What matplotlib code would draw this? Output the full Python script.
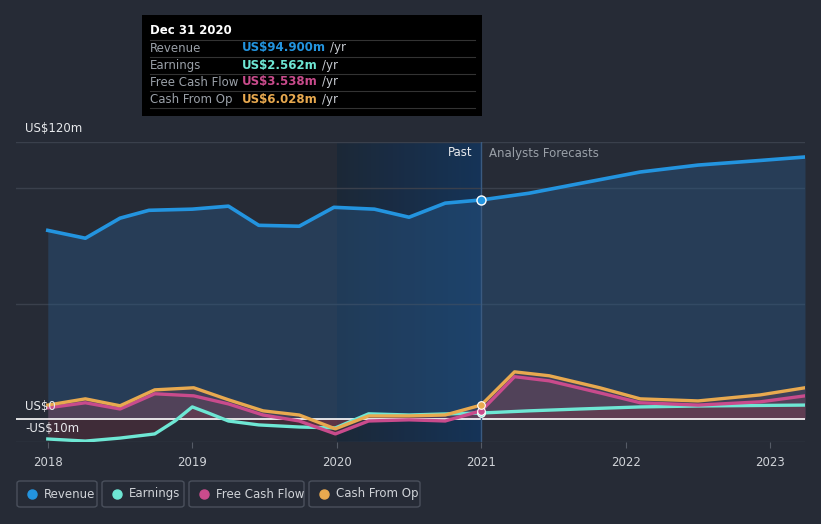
import numpy as np
import matplotlib.pyplot as plt
from matplotlib.patches import FancyBboxPatch, Rectangle
from matplotlib.colors import LinearSegmentedColormap

# Data (US$ m)
rev_x = [2018.0, 2018.26, 2018.5, 2018.7, 2019.0, 2019.25, 2019.46, 2019.74,
         2019.98, 2020.26, 2020.5, 2020.75, 2021.0, 2021.33, 2021.68, 2022.1,
         2022.5, 2022.93, 2023.24]
rev_y = [81.7, 78.3, 87.0, 90.4, 90.9, 92.2, 83.9, 83.5, 91.7, 90.9, 87.4,
         93.5, 94.9, 97.8, 102.0, 107.0, 110.0, 112.0, 113.5]

earn_x = [2018.0, 2018.26, 2018.5, 2018.74, 2018.88, 2019.0, 2019.11, 2019.25,
          2019.46, 2019.74, 2019.99, 2020.22, 2020.5, 2020.78, 2021.0, 2021.33,
          2021.68, 2022.1, 2022.5, 2023.24]
earn_y = [-8.7, -9.6, -8.3, -6.5, -0.9, 5.2, 2.6, -0.9, -2.6, -3.5, -3.9, 2.2,
          1.7, 2.2, 2.562, 3.5, 4.3, 5.2, 5.6, 6.0]

fcf_x = [2018.0, 2018.26, 2018.5, 2018.74, 2019.01, 2019.25, 2019.49, 2019.74,
         2019.99, 2020.22, 2020.5, 2020.75, 2021.0, 2021.23, 2021.47, 2021.82,
         2022.1, 2022.5, 2022.93, 2023.24]
fcf_y = [4.8, 7.0, 4.3, 10.9, 10.0, 6.5, 1.7, -0.9, -6.5, -0.9, -0.4, -0.9,
         3.538, 18.3, 16.5, 11.3, 7.0, 6.0, 7.4, 10.0]

cfo_x = fcf_x
cfo_y = [6.0, 8.7, 5.7, 12.6, 13.5, 8.3, 3.5, 1.7, -4.3, 1.3, 1.3, 1.7,
         6.028, 20.4, 18.7, 13.5, 8.7, 7.8, 10.4, 13.5]

years = [2018, 2019, 2020, 2021, 2022, 2023]
labels = ["Revenue", "Earnings", "Free Cash Flow", "Cash From Op"]
colors = ["#2394df", "#6ee7d4", "#c94b8c", "#e8a94f"]
tip_values = ["US$94.900m", "US$2.562m", "US$3.538m", "US$6.028m"]

bg = "#262b36"
W, H = 821, 524
fig = plt.figure(figsize=(W / 100, H / 100), dpi=100, facecolor=bg)
ax = fig.add_axes([16 / W, (H - 442) / H, (805 - 16) / W, 300 / H])
ax.set_facecolor(bg)

# past highlight (gradient towards the present)
cmap = LinearSegmentedColormap.from_list("past", ["#1c2838", "#15355a"])
ax.imshow(np.linspace(0, 1, 256).reshape(1, -1), cmap=cmap, aspect="auto",
          extent=[2020.0, 2021.0, -10, 120], zorder=0, alpha=0.95,
          interpolation="bilinear")
ax.set_xlim(2017.78, 2023.24)
ax.set_ylim(-10, 120)

for gy in [-10, 50, 100, 120]:
    ax.axhline(gy, color="#3a404c", lw=1, zorder=1)

# areas
ax.fill_between(rev_x, rev_y, 0, color="#2a5a8a", alpha=0.4, lw=0, zorder=2)
for xs, ys, c in [(fcf_x, fcf_y, "#8a4a5e"), (cfo_x, cfo_y, "#8a4a5e"),
                  (earn_x, earn_y, "#8a3040")]:
    ax.fill_between(xs, ys, 0, color=c, alpha=0.25, lw=0, zorder=2)

ax.plot(rev_x, rev_y, color=colors[0], lw=2.6, zorder=5)
ax.plot(earn_x, earn_y, color=colors[1], lw=2.4, zorder=4)
ax.plot(fcf_x, fcf_y, color=colors[2], lw=2.4, zorder=4)
ax.plot(cfo_x, cfo_y, color=colors[3], lw=2.4, zorder=4)

ax.axhline(0, color="white", lw=1.2, zorder=3)
ax.axvline(2021.0, color="#3a5a80", lw=1, zorder=3)

ax.plot([2021.0], [rev_y[rev_x.index(2021.0)]], "o", color=colors[0],
        mec="white", mew=1, ms=6.5, zorder=6)
ax.plot([2021.0], [earn_y[earn_x.index(2021.0)]], "o", color=colors[1],
        mec="white", mew=0.8, ms=5.5, zorder=6)
ax.plot([2021.0], [fcf_y[fcf_x.index(2021.0)]], "o", color=colors[2],
        mec="white", mew=0.8, ms=5.5, zorder=6)
ax.plot([2021.0], [cfo_y[cfo_x.index(2021.0)]], "o", color=colors[3],
        mec="white", mew=0.8, ms=5.5, zorder=6)

for s in ax.spines.values():
    s.set_visible(False)
ax.set_yticks([])
ax.set_xticks(years)
ax.set_xticklabels([str(y) for y in years], color="#d0d3d8", fontsize=8.5)
ax.tick_params(axis="x", length=4, color="#555b66", pad=6)

# y labels
fig.text(25 / W, 1 - 129 / H, "US$120m", color="#e8eaed", fontsize=8.5,
         va="center")
fig.text(25 / W, 1 - 406 / H, "US$0", color="#e8eaed", fontsize=8.5,
         va="center")
fig.text(25 / W, 1 - 429 / H, "-US$10m", color="#e8eaed", fontsize=8.5,
         va="center")

fig.text(472 / W, 1 - 153 / H, "Past", color="#e8eaed", fontsize=8.5,
         ha="right", va="center")
fig.text(489 / W, 1 - 153 / H, "Analysts Forecasts", color="#9aa0a8",
         fontsize=8.5, ha="left", va="center")

# tooltip
fig.patches.append(Rectangle((142 / W, 1 - 116 / H), 340 / W, 101 / H,
                             transform=fig.transFigure, facecolor="black",
                             edgecolor="none", zorder=10))
fig.text(150 / W, 1 - 31 / H, "Dec 31 2020", color="white", fontsize=8.5,
         fontweight="bold", va="center", zorder=11)
renderer = fig.canvas.get_renderer()
for i, (lab, val, c) in enumerate(zip(labels, tip_values, colors)):
    yy = 1 - (48 + 17 * i) / H
    fig.text(150 / W, yy, lab, color="#9aa0a8", fontsize=8.5, va="center",
             zorder=11)
    t = fig.text(242 / W, yy, val, color=c, fontsize=8.5, fontweight="bold",
                 va="center", zorder=11)
    x_end = t.get_window_extent(renderer).x1
    fig.text((x_end + 4) / W, yy, "/yr", color="#c8ccd2", fontsize=8.5,
             va="center", ha="left", zorder=11)
    fig.add_artist(plt.Line2D([150 / W, 475 / W],
                              [1 - (40 + 17 * i) / H] * 2,
                              color="#333", lw=0.8, zorder=11))
fig.add_artist(plt.Line2D([150 / W, 475 / W], [1 - 108 / H] * 2,
                          color="#333", lw=0.8, zorder=11))

# legend boxes
boxes = [(17, 97), (102, 184), (189, 304), (309, 420)]
for (x0, x1), lab, c in zip(boxes, labels, colors):
    fig.patches.append(FancyBboxPatch((x0 / W, 1 - 507 / H),
                                      (x1 - x0) / W, 26 / H,
                                      boxstyle="round,pad=0,rounding_size=0.004",
                                      transform=fig.transFigure,
                                      facecolor="none", edgecolor="#4a505c",
                                      lw=1))
    fig.add_artist(plt.Line2D([(x0 + 15) / W], [1 - 494 / H], marker="o",
                              color=c, ms=6.5, lw=0))
    fig.text((x0 + 27) / W, 1 - 494 / H, lab, color="#d0d3d8", fontsize=8.5,
             va="center")

fig.savefig("out.png", dpi=100, facecolor=bg)
